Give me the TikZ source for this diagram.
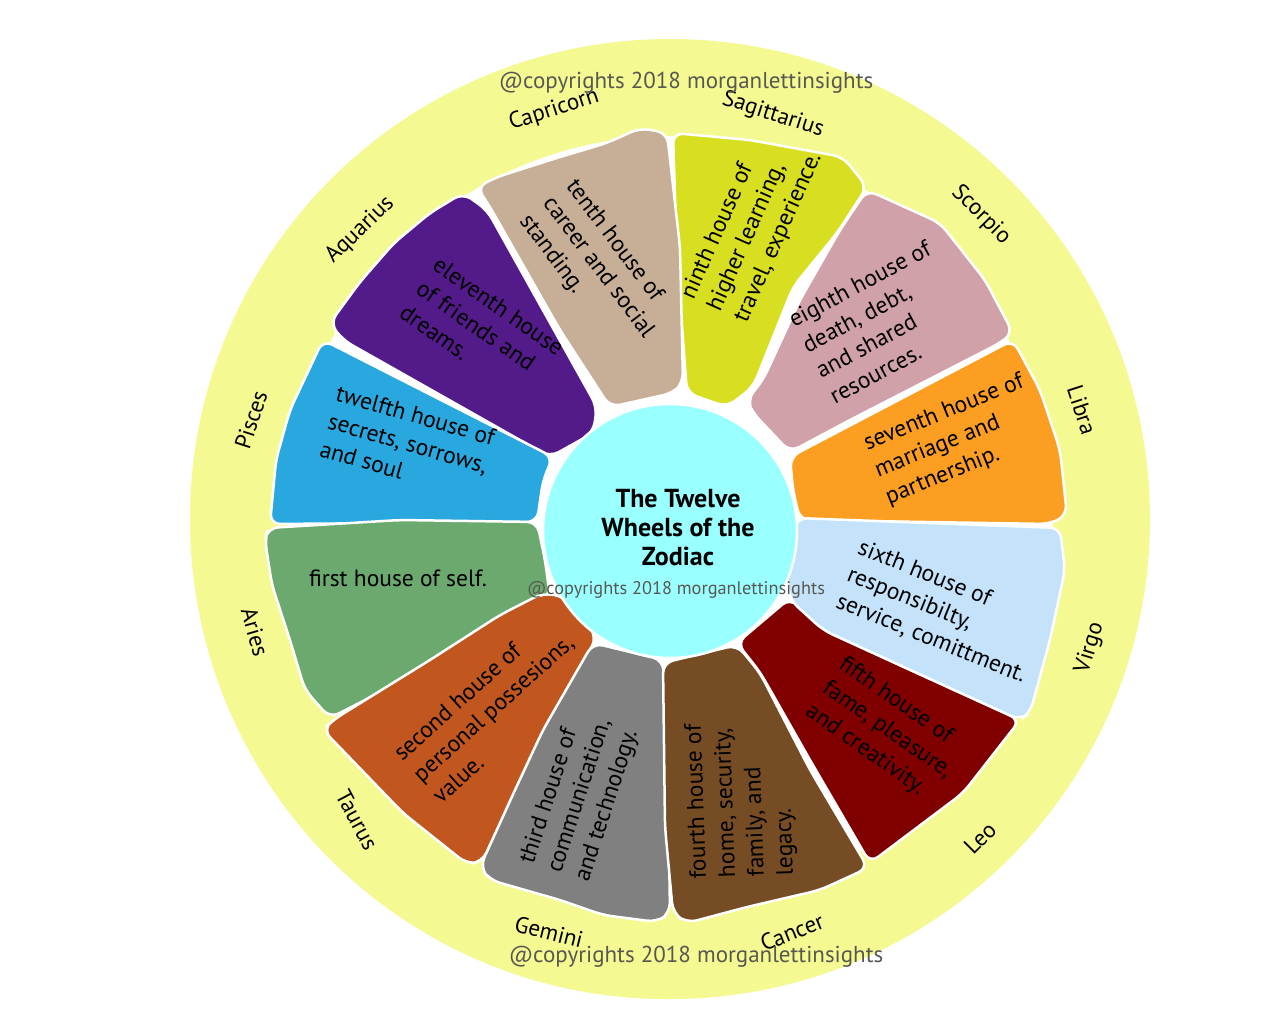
\documentclass[tikz,border=0pt]{standalone}
\usepackage{fontspec}
\setmainfont{PT Sans}
\definecolor{ringyellow}{RGB}{245,249,145}
\definecolor{copygray}{RGB}{88,88,82}
\definecolor{hgreen}{RGB}{107,169,111}
\definecolor{hrust}{RGB}{193,87,31}
\definecolor{hgray}{RGB}{128,128,128}
\definecolor{hbrown}{RGB}{117,76,36}
\definecolor{hmaroon}{RGB}{128,0,0}
\definecolor{hsky}{RGB}{196,227,250}
\definecolor{horange}{RGB}{252,158,33}
\definecolor{hpink}{RGB}{208,161,169}
\definecolor{hlime}{RGB}{216,223,32}
\definecolor{htan}{RGB}{199,174,150}
\definecolor{hpurple}{RGB}{83,26,138}
\definecolor{hblue}{RGB}{41,168,224}
\definecolor{hcyan}{RGB}{153,255,255}
\begin{document}
\begin{tikzpicture}[x=1pt,y=-1pt,
  house/.style={draw=white, line width=2.5pt, rounded corners=10pt},
  htext/.style={align=left, font=\fontsize{23.5}{29}\selectfont, text=black, inner sep=0pt},
  sign/.style={font=\fontsize{23}{26}\selectfont, text=black, inner sep=0pt},
  copyr/.style={font=\fontsize{23}{26}\selectfont, text=copygray, inner sep=0pt}]
\useasboundingbox (0,0) rectangle (1280,1024);
\fill[white] (0,0) rectangle (1280,1024);
% outer ring
\fill[ringyellow, even odd rule] (670,519) circle[radius=480] (670,519) circle[radius=383];
\fill[ringyellow, even odd rule] (667,523) circle[radius=476] (667,523) circle[radius=388];
% houses
\path[house, fill=horange] (790,457) -- (1013,340) -- (1040,390) -- (1060,450) -- (1067,515) -- (1050,524) -- (800,520) -- (793,490) -- cycle;
\path[house, fill=hpink] (867,190) -- (940,223) -- (985,280) -- (1013,333) -- (1000,343) -- (850,420) -- (790,452) -- (753,413) -- (747,400) -- (763,380) -- (800,300) -- (840,230) -- cycle;
\path[house, fill=hlime] (673,133) -- (750,140) -- (843,157) -- (867,187) -- (837,233) -- (793,287) -- (753,387) -- (727,407) -- (687,393) -- (677,260) -- cycle;
\path[house, fill=htan] (640,128) -- (667,133) -- (680,247) -- (683,383) -- (673,393) -- (610,407) -- (560,330) -- (490,207) -- (477,187) -- (497,177) -- (560,157) -- (607,143) -- cycle;
\path[house, fill=hpurple] (463,193) -- (487,210) -- (597,407) -- (593,433) -- (550,457) -- (343,340) -- (330,323) -- (360,282) -- (394,243) -- (430,213) -- cycle;
\path[house, fill=hblue] (323,340) -- (553,457) -- (543,480) -- (537,522) -- (270,524) -- (276,460) -- (290,410) -- cycle;
\path[house, fill=hgreen] (268,528) -- (400,520) -- (537,522) -- (545,560) -- (550,597) -- (470,645) -- (400,682) -- (330,718) -- (305,690) -- (290,640) -- (272,585) -- (265,540) -- cycle;
\path[house, fill=hrust] (543,593) -- (565,597) -- (597,637) -- (540,740) -- (482,862) -- (467,864) -- (403,813) -- (323,730) -- (333,720) -- (430,660) -- (500,615) -- cycle;
\path[house, fill=hgray] (593,643) -- (663,660) -- (668,780) -- (670,913) -- (657,922) -- (603,915) -- (560,900) -- (490,880) -- (480,867) -- (515,790) -- (543,730) -- cycle;
\path[house, fill=hbrown] (663,663) -- (737,645) -- (760,673) -- (810,770) -- (868,868) -- (820,890) -- (747,907) -- (687,923) -- (673,913) -- (665,827) -- cycle;
\path[house, fill=hmaroon] (737,643) -- (790,598) -- (823,630) -- (917,673) -- (1020,720) -- (963,793) -- (870,863) -- (810,760) -- (760,672) -- cycle;
\path[house, fill=hsky] (797,518) -- (1060,528) -- (1065,570) -- (1050,640) -- (1030,713) -- (1020,720) -- (917,673) -- (823,630) -- (790,600) -- (785,560) -- cycle;
% centre
\path[draw=white, line width=2.5pt, fill=hcyan] (670,531) circle[radius=127];
\node[align=center, font=\fontsize{26}{29}\selectfont\bfseries, inner sep=0pt] (title) at (678,528) {The Twelve\\ Wheels of the\\ Zodiac};
\node[copyr, font=\fontsize{18.3}{20}\selectfont] (copyc) at (676,590) {@copyrights 2018 morganlettinsights};
% house texts
\node[htext] (h1) at (398,578) {first house of self.};
\node[htext, rotate=42] (h2) at (493,708) {second house of\\ personal possesions,\\ value.};
\node[htext, rotate=72] (h3) at (580,796) {third house of\\ communication,\\ and technology.};
\node[htext, rotate=92] (h4) at (741,800) {fourth house of\\ home, security,\\ family, and\\ legacy.};
\node[htext, rotate=-35] (h5) at (887,730) {fifth house of\\ fame, pleasure,\\ and creativity.};
\node[htext, rotate=-22] (h6) at (942,612) {sixth house of\\ responsibilty,\\ service, comittment.};
\node[htext, rotate=22] (h7) at (955,440) {seventh house of\\ marriage and\\ partnership.};
\node[htext, rotate=28] (h8) at (880,322) {eighth house of\\ death, debt,\\ and shared\\ resources.};
\node[htext, rotate=66] (h9) at (752,226) {ninth house of\\ higher learning,\\ travel, experience.};
\node[htext, rotate=-53] (h10) at (598,268) {tenth house of\\ career and social\\ standing.};
\node[htext, rotate=-35] (h11) at (482,330) {eleventh house\\ of friends and\\ dreams.};
\node[htext, rotate=-16] (h12) at (408,443) {twelfth house of\\ secrets, sorrows,\\ and soul};
% signs
\node[sign, rotate=18] (capricorn) at (554,110) {Capricorn};
\node[sign, rotate=-18] (sagittarius) at (773,115) {Sagittarius};
\node[sign, rotate=-45] (scorpio) at (981,215) {Scorpio};
\node[sign, rotate=-72] (libra) at (1082,410) {Libra};
\node[sign, rotate=73] (virgo) at (1090,648) {Virgo};
\node[sign, rotate=45] (leo) at (980,838) {Leo};
\node[sign, rotate=22] (cancer) at (792,932) {Cancer};
\node[sign, rotate=-14] (gemini) at (549,932) {Gemini};
\node[sign, rotate=-62] (taurus) at (357,820) {Taurus};
\node[sign, rotate=-74] (aries) at (255,632) {Aries};
\node[sign, rotate=72] (pisces) at (251,420) {Pisces};
\node[sign, rotate=44] (aquarius) at (360,230) {Aquarius};
% copyrights
\node[copyr] (copyt) at (686,83) {@copyrights 2018 morganlettinsights};
\node[copyr] (copyb) at (696,957) {@copyrights 2018 morganlettinsights};
\end{tikzpicture}
\end{document}
